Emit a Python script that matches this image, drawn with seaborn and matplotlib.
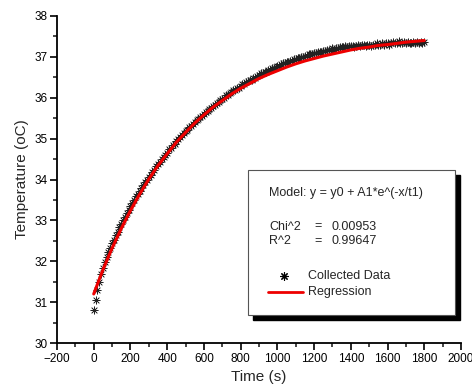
import numpy as np
import pandas as pd
import matplotlib
matplotlib.use("Agg")
import matplotlib.pyplot as plt
from matplotlib.patches import Rectangle
from matplotlib.lines import Line2D
from matplotlib.ticker import MultipleLocator
import seaborn as sns

# ---- data ----
time_s = np.arange(0, 1801, 10)
temperature = [
    30.80, 31.05, 31.30, 31.50, 31.68, 31.84, 31.98, 32.10, 32.22, 32.33,
    32.45, 32.52, 32.65, 32.72, 32.84, 32.90, 33.02, 33.08, 33.19, 33.26,
    33.35, 33.43, 33.50, 33.60, 33.65, 33.73, 33.79, 33.86, 33.93, 33.99,
    34.06, 34.10, 34.19, 34.24, 34.32, 34.37, 34.43, 34.51, 34.54, 34.61,
    34.66, 34.74, 34.77, 34.85, 34.88, 34.95, 35.00, 35.04, 35.10, 35.13,
    35.19, 35.22, 35.29, 35.31, 35.37, 35.40, 35.46, 35.48, 35.54, 35.56,
    35.61, 35.66, 35.68, 35.73, 35.75, 35.81, 35.83, 35.87, 35.89, 35.94,
    35.98, 36.00, 36.06, 36.07, 36.12, 36.13, 36.18, 36.19, 36.23, 36.25,
    36.29, 36.33, 36.34, 36.38, 36.40, 36.43, 36.44, 36.48, 36.49, 36.53,
    36.56, 36.60, 36.61, 36.64, 36.64, 36.68, 36.69, 36.72, 36.72, 36.75,
    36.78, 36.78, 36.82, 36.84, 36.84, 36.88, 36.88, 36.91, 36.91, 36.94,
    36.94, 36.97, 36.97, 37.00, 37.00, 37.03, 37.03, 37.06, 37.06, 37.06,
    37.09, 37.09, 37.12, 37.12, 37.12, 37.15, 37.15, 37.18, 37.18, 37.18,
    37.21, 37.18, 37.21, 37.21, 37.24, 37.24, 37.24, 37.27, 37.24, 37.27,
    37.27, 37.27, 37.24, 37.27, 37.30, 37.27, 37.30, 37.30, 37.27, 37.30,
    37.30, 37.27, 37.30, 37.30, 37.33, 37.30, 37.30, 37.33, 37.30, 37.33,
    37.33, 37.30, 37.33, 37.36, 37.33, 37.33, 37.39, 37.33, 37.33, 37.36,
    37.33, 37.36, 37.33, 37.33, 37.36, 37.33, 37.36, 37.33, 37.36, 37.33, 37.36,
]
fit_time = np.arange(0, 1801, 50)
fit_temp = [
    31.20, 31.79, 32.32, 32.80, 33.24, 33.64, 34.01, 34.34, 34.63, 34.91,
    35.15, 35.38, 35.58, 35.77, 35.93, 36.09, 36.23, 36.35, 36.47, 36.57,
    36.66, 36.75, 36.83, 36.90, 36.96, 37.02, 37.07, 37.12, 37.17, 37.21,
    37.24, 37.28, 37.30, 37.33, 37.36, 37.38, 37.40,
]
x_label = "Time (s)"
y_label = "Temperature (oC)"
model_text = "Model: y = y0 + A1*e^(-x/t1)"
stat_names = ["Chi^2", "R^2"]
stat_values = ["0.00953", "0.99647"]
legend_labels = ["Collected Data", "Regression"]

data = pd.DataFrame({"t": time_s, "T": temperature})
fit = pd.DataFrame({"t": fit_time, "T": fit_temp})

sns.set_theme(style="ticks")
plt.rcParams["font.family"] = ["Liberation Sans", "DejaVu Sans"]

W, H = 472, 390
fig = plt.figure(figsize=(W / 100, H / 100), dpi=100)
ax = fig.add_axes([57 / W, 1 - 343 / H, (461 - 57) / W, (343 - 16) / H])

asterisk = (8, 2, 0)
sns.scatterplot(data=data, x="t", y="T", ax=ax, marker=asterisk, s=28,
                color="#222222", edgecolor="#222222", linewidth=0.5, legend=False,
                zorder=2)
sns.lineplot(data=fit, x="t", y="T", ax=ax, color="#ee0000", linewidth=2.2,
             legend=False, zorder=3)

ax.set_xlim(-200, 2000)
ax.set_ylim(30, 38)
ax.xaxis.set_major_locator(MultipleLocator(200))
ax.xaxis.set_minor_locator(MultipleLocator(100))
ax.yaxis.set_major_locator(MultipleLocator(1))
ax.yaxis.set_minor_locator(MultipleLocator(0.5))
ax.tick_params(which="major", direction="out", length=5, width=1.2,
               labelsize=8.5, colors="black", pad=2)
ax.tick_params(which="minor", direction="out", length=3, width=1.2)
for s in ["top", "right"]:
    ax.spines[s].set_visible(False)
for s in ["left", "bottom"]:
    ax.spines[s].set_linewidth(1.3)
    ax.spines[s].set_color("black")
ax.set_xlabel(x_label, fontsize=11, labelpad=4)
ax.set_ylabel(y_label, fontsize=11, labelpad=4)
ax.set_facecolor("white")
fig.patch.set_facecolor("white")

def fx(px):
    return px / W

def fy(py):
    return 1 - py / H

# legend box with shadow
bx0, by0, bx1, by1 = 248, 170, 455, 315
fig.add_artist(Rectangle((fx(bx0 + 5), fy(by1 + 5)), (bx1 - bx0) / W, (by1 - by0) / H,
                         transform=fig.transFigure, facecolor="black",
                         edgecolor="black", zorder=5))
fig.add_artist(Rectangle((fx(bx0), fy(by1)), (bx1 - bx0) / W, (by1 - by0) / H,
                         transform=fig.transFigure, facecolor="white",
                         edgecolor="#555555", linewidth=0.8, zorder=6))

fs = 9
fig.text(fx(269), fy(193), model_text, fontsize=fs, va="center", ha="left", zorder=7)
for i, (n, v) in enumerate(zip(stat_names, stat_values)):
    yy = fy(226.5 + i * 15)
    fig.text(fx(269), yy, n, fontsize=fs, va="center", ha="left", zorder=7)
    fig.text(fx(314), yy, "=", fontsize=fs, va="center", ha="left", zorder=7)
    fig.text(fx(331), yy, v, fontsize=fs, va="center", ha="left", zorder=7)

fig.add_artist(Line2D([fx(283.5)], [fy(276)], marker=asterisk, markersize=6,
                      markeredgewidth=0.8, color="black", linestyle="none",
                      transform=fig.transFigure, zorder=7))
fig.text(fx(308), fy(276), legend_labels[0], fontsize=fs, va="center", ha="left", zorder=7)
fig.add_artist(Line2D([fx(268), fx(303)], [fy(292), fy(292)], color="#ee0000",
                      linewidth=2.0, transform=fig.transFigure, zorder=7))
fig.text(fx(308), fy(292), legend_labels[1], fontsize=fs, va="center", ha="left", zorder=7)

fig.savefig("out.png", dpi=100, facecolor="white")
